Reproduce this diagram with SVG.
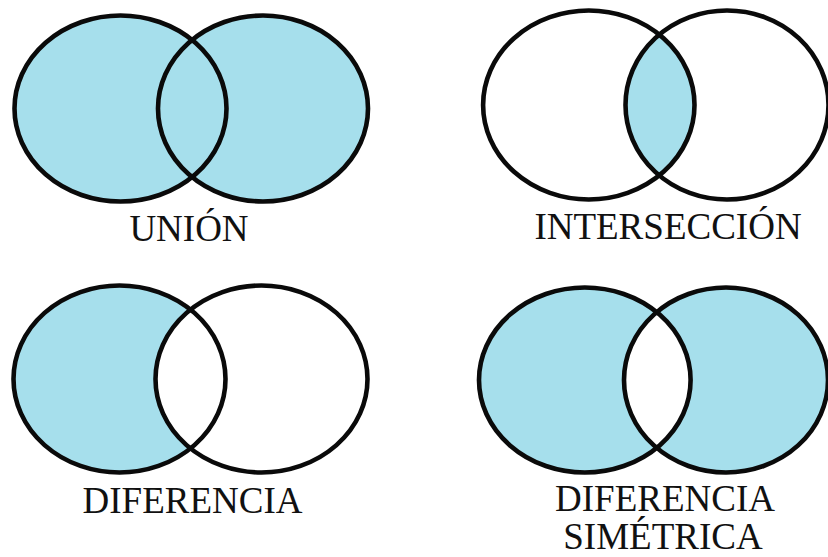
<svg xmlns="http://www.w3.org/2000/svg" width="828" height="557" viewBox="0 0 828 557">
<style>
.fill{fill:#a6dfec;stroke:none}
.white{fill:#ffffff;stroke:none}
.ring{fill:none;stroke:#0a0a0a;stroke-width:4.6}
.lbl{font-family:"Liberation Serif","Times New Roman",serif;font-size:37px;fill:#111111;text-anchor:middle}
</style>
<defs>
<clipPath id="cpI"><ellipse cx="727" cy="105" rx="101.5" ry="94.5"/></clipPath>
<clipPath id="cpS"><ellipse cx="726" cy="380" rx="102" ry="92.5"/></clipPath>
</defs>
<rect width="828" height="557" fill="#ffffff"/>
<g id="union">
<ellipse class="fill" cx="120.5" cy="108.5" rx="106" ry="93"/>
<ellipse class="fill" cx="263" cy="108.5" rx="105" ry="93"/>
<ellipse class="ring" cx="120.5" cy="108.5" rx="106" ry="93"/>
<ellipse class="ring" cx="263" cy="108.5" rx="105" ry="93"/>
<text class="lbl" x="189" y="241">UNIÓN</text>
</g>
<g id="interseccion">
<ellipse class="fill" cx="588.8" cy="105" rx="105.7" ry="94.5" clip-path="url(#cpI)"/>
<ellipse class="ring" cx="588.8" cy="105" rx="105.7" ry="94.5"/>
<ellipse class="ring" cx="727" cy="105" rx="101.5" ry="94.5"/>
<text class="lbl" x="668" y="239">INTERSECCIÓN</text>
</g>
<g id="diferencia">
<ellipse class="fill" cx="119.5" cy="379" rx="106" ry="93.5"/>
<ellipse class="white" cx="261.5" cy="379" rx="106" ry="93.5"/>
<ellipse class="ring" cx="119.5" cy="379" rx="106" ry="93.5"/>
<ellipse class="ring" cx="261.5" cy="379" rx="106" ry="93.5"/>
<text class="lbl" x="192.5" y="513">DIFERENCIA</text>
</g>
<g id="diferencia-simetrica">
<ellipse class="fill" cx="584.8" cy="380" rx="105.8" ry="92.5"/>
<ellipse class="fill" cx="726" cy="380" rx="102" ry="92.5"/>
<ellipse class="white" cx="584.8" cy="380" rx="105.8" ry="92.5" clip-path="url(#cpS)"/>
<ellipse class="ring" cx="584.8" cy="380" rx="105.8" ry="92.5"/>
<ellipse class="ring" cx="726" cy="380" rx="102" ry="92.5"/>
<text class="lbl" x="665" y="511">DIFERENCIA</text>
<text class="lbl" x="663" y="549">SIMÉTRICA</text>
</g>
</svg>
